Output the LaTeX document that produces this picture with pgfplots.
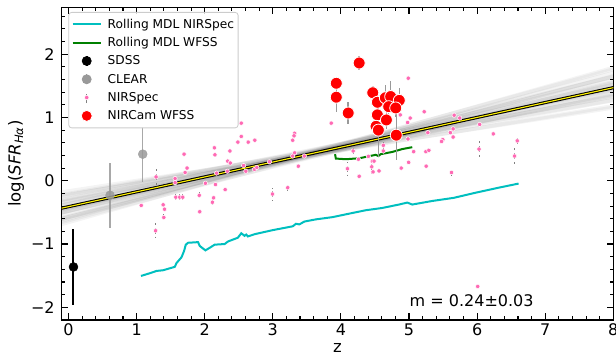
\documentclass[border=0pt]{standalone}
\usepackage{fontspec}
\setmainfont{DejaVu Sans}
\usepackage{pgfplots}
\usepackage{pgfplotstable}
\pgfplotsset{compat=1.18}

\definecolor{mdlcyan}{HTML}{00BFBF}
\definecolor{mdlgreen}{HTML}{008000}
\definecolor{hotpink}{HTML}{FF69B4}
\definecolor{errgray}{HTML}{808080}
\definecolor{cleargray}{HTML}{999999}

% NIRSpec sample: redshift, log SFR(Halpha), uncertainty
\pgfplotstableread{
x y ey
1.286 0.06 0.13
1.565 0.035 0.03
1.565 -0.03 0.03
1.697 0.42 0.03
1.741 0.20 0.03
1.712 0.13 0.03
2.142 0.52 0.03
2.150 0.41 0.03
2.175 0.12 0.03
2.010 -0.04 0.03
2.158 -0.06 0.03
1.576 -0.26 0.08
1.634 -0.26 0.08
1.678 -0.26 0.08
1.920 -0.23 0.08
2.131 -0.27 0.03
2.113 -0.34 0.08
1.927 -0.49 0.03
1.068 -0.39 0.03
1.390 -0.38 0.03
1.410 -0.45 0.03
1.400 -0.58 0.07
1.279 -0.79 0.12
2.537 0.91 0.03
2.537 0.70 0.03
2.487 0.61 0.03
2.639 0.61 0.03
2.736 0.64 0.03
2.370 0.47 0.03
2.337 0.31 0.03
2.376 0.28 0.03
2.332 0.15 0.03
2.571 0.24 0.03
2.604 0.15 0.03
2.731 0.18 0.03
2.765 0.21 0.03
2.951 0.30 0.03
3.321 0.75 0.03
3.312 0.71 0.03
3.292 0.64 0.03
3.321 0.44 0.03
3.292 0.39 0.03
3.463 0.39 0.03
3.375 0.23 0.03
3.858 0.91 0.03
2.300 -0.14 0.03
2.995 -0.21 0.10
3.219 -0.11 0.07
4.989 1.62 0.03
5.223 1.09 0.03
5.018 0.99 0.03
4.980 0.92 0.03
4.872 1.04 0.03
5.277 0.76 0.03
5.497 0.65 0.03
5.478 0.62 0.03
4.985 0.66 0.03
4.180 0.47 0.05
5.068 0.46 0.03
5.248 0.46 0.03
5.292 0.48 0.03
4.623 0.56 0.05
4.623 0.47 0.05
4.404 0.385 0.03
4.462 0.31 0.03
4.487 0.31 0.03
4.453 0.22 0.10
4.472 0.14 0.03
4.560 0.155 0.03
4.257 0.34 0.03
4.995 0.29 0.03
4.886 0.20 0.03
5.252 0.23 0.03
4.096 0.19 0.10
4.268 0.07 0.03
5.663 1.035 0.03
5.745 0.99 0.03
6.038 0.89 0.03
5.648 0.82 0.03
5.607 0.76 0.03
5.648 0.69 0.03
6.238 0.74 0.03
6.590 0.63 0.09
6.028 0.50 0.13
6.550 0.39 0.13
5.624 0.13 0.08
6.009 -1.67 0.02
}\nirspec

% NIRCam grism (WFSS) sample
\pgfplotstableread{
x y ey
4.268 1.86 0.11
3.932 1.54 0.10
3.932 1.32 0.24
4.107 1.07 0.17
4.468 1.39 0.10
4.536 1.24 0.10
4.652 1.31 0.20
4.731 1.33 0.25
4.857 1.27 0.19
4.702 1.17 0.12
4.805 1.15 0.15
4.536 1.04 0.10
4.668 0.96 0.15
4.516 0.86 0.10
4.550 0.80 0.42
4.813 0.72 0.40
}\wfss

% CLEAR stacks
\pgfplotstableread{
x y ey
0.610 -0.23 0.515
1.090 0.42 0.435
}\clear

% SDSS reference point
\pgfplotstableread{
x y ey
0.073 -1.362 0.606
}\sdss

\begin{document}
\begin{tikzpicture}
\begin{axis}[
  at={(0pt,0pt)}, anchor=south west,
  scale only axis, width=551.6pt, height=312.7pt,
  xmin=-0.1, xmax=8, ymin=-2.2, ymax=2.74,
  xtick={0,1,2,3,4,5,6,7,8},
  ytick={-2,-1,0,1,2},
  yticklabels={−2,−1,0,1,2},
  minor xtick={0.2,0.4,...,7.8},
  minor ytick={-2.2,-2.0,...,2.6},
  tick align=inside,
  major tick length=6.7pt, minor tick length=3.7pt,
  every tick/.style={black, line width=1.1pt},
  axis line style={line width=1.1pt},
  /pgf/number format/assume math mode=true,
  tick label style={font=\fontsize{16}{18}\selectfont},
  yticklabel style={xshift=-3.5pt},
  xlabel={z},
  ylabel={log(\textit{SFR}\textsubscript{\textit{Hα}})},
  every axis x label/.style={at={(axis description cs:0.5,-0.0895)}, anchor=center,
    font=\fontsize{16.5}{19}\selectfont},
  every axis y label/.style={at={(axis description cs:-0.0829,0.5)}, anchor=center, rotate=90,
    font=\fontsize{16.5}{19}\selectfont},
  legend style={
    at={(0.012,0.985)}, anchor=north west,
    draw=black!20, line width=0.8pt, rounded corners=3pt,
    fill=white, fill opacity=0.8, text opacity=1,
    font=\fontsize{12.2}{14}\selectfont,
    inner xsep=3pt, inner ysep=5pt,
    row sep=4.3pt,
    nodes={inner sep=1pt, text height=10pt, text depth=2pt},
    /tikz/every odd column/.append style={column sep=5pt},
  },
  legend cell align=left,
  band/.style={black, opacity=0.045, line width=4pt, forget plot},
]

% posterior draws of the linear fit
\addplot[band] coordinates {(-0.1,-0.506) (8,1.560)};
\addplot[band] coordinates {(-0.1,-0.342) (8,1.400)};
\addplot[band] coordinates {(-0.1,-0.500) (8,1.485)};
\addplot[band] coordinates {(-0.1,-0.502) (8,1.645)};
\addplot[band] coordinates {(-0.1,-0.310) (8,1.270)};
\addplot[band] coordinates {(-0.1,-0.604) (8,1.705)};
\addplot[band] coordinates {(-0.1,-0.448) (8,1.375)};
\addplot[band] coordinates {(-0.1,-0.224) (8,1.275)};
\addplot[band] coordinates {(-0.1,-0.326) (8,1.335)};
\addplot[band] coordinates {(-0.1,-0.588) (8,1.640)};
\addplot[band] coordinates {(-0.1,-0.384) (8,1.520)};
\addplot[band] coordinates {(-0.1,-0.546) (8,1.520)};
\addplot[band] coordinates {(-0.1,-0.630) (8,1.760)};
\addplot[band] coordinates {(-0.1,-0.238) (8,1.180)};
\addplot[band] coordinates {(-0.1,-0.302) (8,1.440)};
\addplot[band] coordinates {(-0.1,-0.602) (8,1.545)};
\addplot[band] coordinates {(-0.1,-0.388) (8,1.435)};
\addplot[band] coordinates {(-0.1,-0.444) (8,1.460)};
\addplot[band] coordinates {(-0.1,-0.476) (8,1.590)};
\addplot[band] coordinates {(-0.1,-0.392) (8,1.350)};
\addplot[band] coordinates {(-0.1,-0.686) (8,1.785)};
\addplot[band] coordinates {(-0.1,-0.182) (8,1.155)};
\addplot[band] coordinates {(-0.1,-0.250) (8,1.330)};
\addplot[band] coordinates {(-0.1,-0.654) (8,1.655)};

% CLEAR
\addplot[forget plot, only marks, mark=*, mark size=4.5pt,
  color=cleargray, opacity=0.85,
  error bars/.cd, y dir=both, y explicit,
  error bar style={cleargray, line width=1.5pt}, error mark=none]
  table[x=x, y=y, y error=ey] {\clear};

% best fit
\addplot[forget plot, black, line width=3.2pt] coordinates {(-0.1,-0.4335) (8,1.47)};
\addplot[forget plot, yellow, line width=1.1pt] coordinates {(-0.1,-0.4335) (8,1.47)};

% rolling minimum detectable limits
\addplot[forget plot, mdlcyan, line width=2pt] coordinates {
(1.064,-1.504)(1.195,-1.461)(1.293,-1.425)(1.39,-1.414)(1.561,-1.36)(1.586,-1.30)
(1.659,-1.21)(1.697,-1.11)(1.722,-1.01)(1.756,-0.98)(1.902,-0.97)(1.927,-1.03)
(2.01,-1.10)(2.073,-1.06)(2.146,-1.01)(2.293,-1.00)(2.341,-0.96)(2.414,-0.93)
(2.487,-0.90)(2.537,-0.83)(2.585,-0.87)(2.61,-0.85)(2.634,-0.88)(2.731,-0.845)
(3.0,-0.78)(3.292,-0.72)(3.341,-0.68)(3.39,-0.69)(3.463,-0.645)(3.634,-0.61)
(3.877,-0.575)(4.121,-0.52)(4.366,-0.466)(4.609,-0.43)(4.853,-0.376)(4.975,-0.345)
(5.048,-0.376)(5.34,-0.32)(5.658,-0.27)(5.975,-0.19)(6.316,-0.11)(6.609,-0.045)};
\addplot[forget plot, mdlgreen, line width=2pt] coordinates {
(3.914,0.42)(3.926,0.35)(4.073,0.34)(4.268,0.355)(4.414,0.387)(4.512,0.41)
(4.55,0.39)(4.585,0.42)(4.755,0.455)(4.90,0.50)(5.048,0.53)};

% SDSS
\addplot[forget plot, only marks, mark=*, mark size=4.5pt, color=black,
  error bars/.cd, y dir=both, y explicit,
  error bar style={black, line width=2pt}, error mark=none]
  table[x=x, y=y, y error=ey] {\sdss};

% NIRSpec
\addplot[forget plot, only marks, mark=*, mark size=2.2pt,
  mark options={fill=hotpink, draw=white, line width=0.5pt, solid},
  error bars/.cd, y dir=both, y explicit,
  error bar style={errgray, dashed, line width=0.8pt}, error mark=none]
  table[x=x, y=y, y error=ey] {\nirspec};

% NIRCam WFSS
\addplot[forget plot, only marks, mark=*, mark size=6pt,
  mark options={fill=red, draw=white, line width=0.8pt},
  error bars/.cd, y dir=both, y explicit,
  error bar style={cleargray, line width=1.5pt}, error mark=none]
  table[x=x, y=y, y error=ey] {\wfss};

\node[font=\fontsize{16}{19}\selectfont] at (axis cs:5.92,-1.90) {m = 0.24±0.03};

% legend
\addlegendimage{legend image code/.code={\draw[mdlcyan, line width=2pt] (0pt,0pt) -- (28pt,0pt);}}
\addlegendentry{Rolling MDL NIRSpec}
\addlegendimage{legend image code/.code={\draw[mdlgreen, line width=2pt] (0pt,0pt) -- (28pt,0pt);}}
\addlegendentry{Rolling MDL WFSS}
\addlegendimage{legend image code/.code={
  \draw[black, line width=2pt] (14pt,-5pt) -- (14pt,5pt);
  \draw[fill opacity=1, black, mark=*, mark size=4.5pt, only marks] plot coordinates {(14pt,0pt)};}}
\addlegendentry{SDSS}
\addlegendimage{legend image code/.code={
  \draw[cleargray, line width=1.5pt] (14pt,-5pt) -- (14pt,5pt);
  \draw[fill opacity=1, cleargray, mark=*, mark size=4.5pt, only marks] plot coordinates {(14pt,0pt)};}}
\addlegendentry{CLEAR}
\addlegendimage{legend image code/.code={
  \draw[errgray, dashed, line width=0.8pt] (14pt,-5.5pt) -- (14pt,5.5pt);
  \draw[fill opacity=1, only marks, mark=*, mark size=2.2pt, mark options={fill=hotpink, draw=white, line width=0.5pt, solid}] plot coordinates {(14pt,0pt)};}}
\addlegendentry{NIRSpec}
\addlegendimage{legend image code/.code={
  \draw[fill opacity=1, only marks, mark=*, mark size=5.5pt, mark options={fill=red, draw=white, line width=0.8pt}] plot coordinates {(14pt,0pt)};}}
\addlegendentry{NIRCam WFSS}
\end{axis}
\pgfresetboundingbox
\path (-61.7pt,-35pt) rectangle (554.3pt,320pt);
\end{tikzpicture}
\end{document}
